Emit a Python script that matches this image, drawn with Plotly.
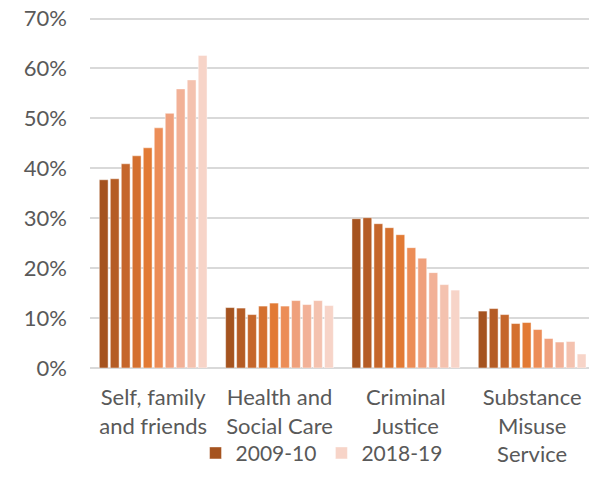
import plotly.graph_objects as go

categories = ["Self, family<br>and friends", "Health and<br>Social Care", "Criminal<br>Justice", "Substance<br>Misuse<br>Service"]
years = ["2009-10", "2010-11", "2011-12", "2012-13", "2013-14", "2014-15", "2015-16", "2016-17", "2017-18", "2018-19"]
self_family = [37.7, 37.9, 40.9, 42.5, 44.1, 48.1, 51.0, 55.9, 57.7, 62.6]
health_social = [12.1, 12.0, 10.7, 12.4, 13.0, 12.4, 13.5, 12.7, 13.5, 12.5]
criminal_justice = [29.9, 30.1, 28.9, 28.1, 26.7, 24.1, 22.0, 19.1, 16.7, 15.6]
substance_misuse = [11.4, 11.9, 10.7, 8.9, 9.1, 7.7, 5.9, 5.2, 5.3, 2.8]
colors = ["#A5531F", "#B55C25", "#C5662B", "#D4702F", "#E27A34", "#EC8D57", "#EFA07C", "#F2B197", "#F4C2AF", "#F7D4C8"]
legend_years = ["2009-10", "2018-19"]
y_ticks = [0, 10, 20, 30, 40, 50, 60, 70]

fig = go.Figure()
for i, yr in enumerate(years):
    vals = [self_family[i], health_social[i], criminal_justice[i], substance_misuse[i]]
    fig.add_trace(go.Bar(
        x=categories, y=vals, name=yr,
        marker=dict(color=colors[i], line=dict(color="rgba(255,255,255,0.45)", width=1)),
        showlegend=yr in legend_years,
    ))

font = dict(family="Lato, sans-serif", size=22, color="#595959")
fig.update_layout(
    width=589, height=493,
    margin=dict(l=90, r=0, t=16.5, b=125),
    paper_bgcolor="white", plot_bgcolor="white",
    barmode="group", bargap=0.13, bargroupgap=0.2,
    font=font,
    legend=dict(orientation="h", x=0.464, xanchor="center", y=-0.243, yanchor="middle",
                bgcolor="rgba(0,0,0,0)",
                font=dict(family="Lato, sans-serif", size=21, color="#595959"),
                itemwidth=30, traceorder="normal"),
    xaxis=dict(type="category", range=[-0.5, 3.45], showgrid=False, showline=False,
               automargin=False, ticks="", tickfont=font, ticklabelstandoff=14),
    yaxis=dict(range=[0, 70.3], tickmode="array", tickvals=y_ticks, automargin=False,
               ticktext=[f"{v}%" for v in y_ticks], showgrid=True, ticklabeloverflow="allow",
               gridcolor="#D9D9D9", gridwidth=1.5, zeroline=True, zerolinecolor="#D9D9D9",
               zerolinewidth=1.5, showline=False, ticks="", tickfont=font, ticklabelstandoff=22),
)

fig.write_html("out.html", config={"displayModeBar": False},
               post_script="document.body.style.margin='0';")
